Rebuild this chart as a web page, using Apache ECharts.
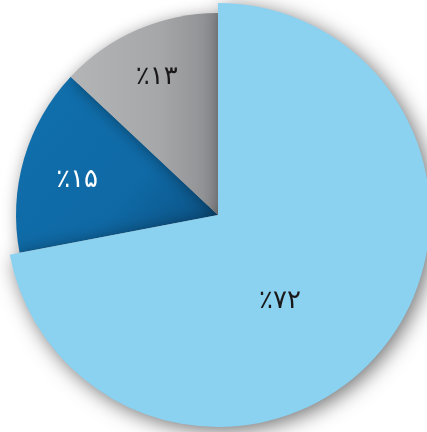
<!DOCTYPE html>
<html><head><meta charset="utf-8">
<script src="https://cdn.jsdelivr.net/npm/echarts@6/dist/echarts.min.js"></script>
<style>html,body{margin:0;padding:0;background:#fff}#c{width:427px;height:432px}</style>
</head><body><div id="c"></div>
<script>
const categories = ['a', 'b', 'c'];
const values = [72, 15, 13];
const labels = ['٪۷۲', '٪۱۵', '٪۱۳'];

const chart = echarts.init(document.getElementById('c'), null, {renderer: 'canvas'});
const center = [218, 215];
const labelFont = {fontFamily: 'DejaVu Sans', fontSize: 26, fontWeight: 'normal'};
const offsets = [[-22, 17], [-41, -6], [-20, -42]];

function mkData(show) {
  return categories.map((c, i) => ({
    name: c, value: values[i],
    itemStyle: show[i] ? undefined : {color: 'rgba(0,0,0,0)', shadowBlur: 0, shadowColor: 'rgba(0,0,0,0)'},
    label: show[i] ? undefined : {show: false}
  }));
}

const smallColors = [
  null,
  new echarts.graphic.LinearGradient(0, 0, 1, 1, [
    {offset: 0, color: '#1070ad'}, {offset: 0.6, color: '#0f69a5'}, {offset: 1, color: '#0a4c7c'}
  ]),
  new echarts.graphic.LinearGradient(0, 0, 1, 0, [
    {offset: 0, color: '#b4b5b7'}, {offset: 0.6, color: '#a6a7a9'}, {offset: 1, color: '#8c8d90'}
  ])
];
const labelColors = ['#1a1718', '#ffffff', '#1a1718'];

const smallData = mkData([false, true, true]).map((d, i) => {
  if (i > 0) { d.itemStyle = {color: smallColors[i]}; d.label = {color: labelColors[i]}; }
  return d;
});
const bigData = mkData([true, false, false]).map((d, i) => {
  if (i === 0) { d.itemStyle = {color: '#8bd1f0'}; d.label = {color: labelColors[i]}; }
  return d;
});

chart.setOption({
  backgroundColor: '#ffffff',
  animation: false,
  series: [
    {
      type: 'pie', center: center, radius: [0, 202], startAngle: 90, clockwise: true,
      silent: true, avoidLabelOverlap: false,
      itemStyle: {shadowBlur: 16, shadowColor: 'rgba(0,0,0,0.4)', shadowOffsetX: 2, shadowOffsetY: 2},
      label: Object.assign({show: true, position: 'inside', formatter: p => labels[p.dataIndex]}, labelFont),
      labelLine: {show: false},
      labelLayout: p => ({dx: offsets[p.dataIndex][0], dy: offsets[p.dataIndex][1]}),
      data: smallData
    },
    {
      type: 'pie', center: center, radius: [0, 212], startAngle: 90, clockwise: true,
      silent: true, avoidLabelOverlap: false,
      itemStyle: {shadowBlur: 20, shadowColor: 'rgba(0,0,0,0.55)', shadowOffsetX: 4, shadowOffsetY: 4},
      label: Object.assign({show: true, position: 'inside', formatter: p => labels[p.dataIndex]}, labelFont),
      labelLine: {show: false},
      labelLayout: p => ({dx: offsets[p.dataIndex][0], dy: offsets[p.dataIndex][1]}),
      data: bigData
    }
  ]
});
</script>
</body></html>
